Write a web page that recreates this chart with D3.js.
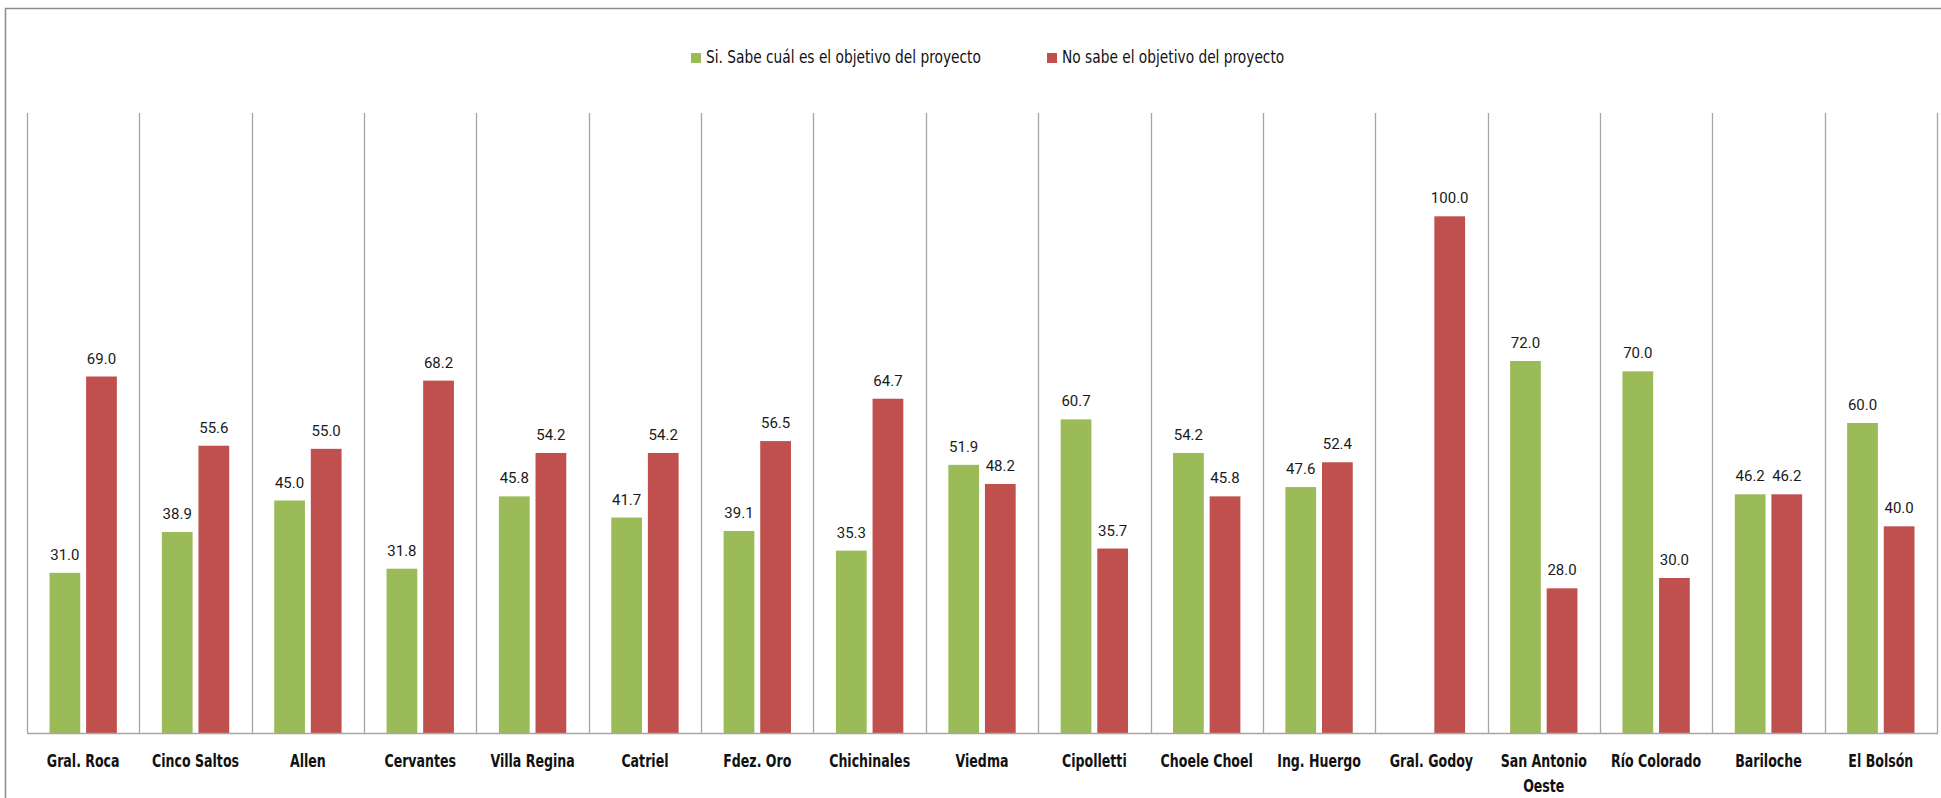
<!DOCTYPE html>
<html>
<head>
<meta charset="utf-8">
<script src="https://cdn.jsdelivr.net/npm/d3@7"></script>
<style>
  html, body { margin: 0; padding: 0; background: #fff; }
  svg { display: block; }
</style>
</head>
<body>
<div id="chart"></div>
<script>
// Datos del gráfico
const categories = ["Gral. Roca", "Cinco Saltos", "Allen", "Cervantes", "Villa Regina", "Catriel",
  "Fdez. Oro", "Chichinales", "Viedma", "Cipolletti", "Choele Choel", "Ing. Huergo",
  "Gral. Godoy", "San Antonio Oeste", "Río Colorado", "Bariloche", "El Bolsón"];
const seriesNames = ["Si. Sabe cuál es el objetivo del proyecto", "No sabe el objetivo del proyecto"];
const siSabe = [31.0, 38.9, 45.0, 31.8, 45.8, 41.7, 39.1, 35.3, 51.9, 60.7, 54.2, 47.6, null, 72.0, 70.0, 46.2, 60.0];
const noSabe = [69.0, 55.6, 55.0, 68.2, 54.2, 54.2, 56.5, 64.7, 48.2, 35.7, 45.8, 52.4, 100.0, 28.0, 30.0, 46.2, 40.0];
const colors = ["#9BBB59", "#C0504D"];

const width = 1941, height = 798;
const plot = { left: 27, right: 1937, top: 113, bottom: 733 };
const narrowFont = "'DejaVu Sans Condensed', 'Liberation Sans Narrow', sans-serif";

const data = categories.map((c, i) => ({
  cat: c,
  values: [
    { key: seriesNames[0], v: siSabe[i] },
    { key: seriesNames[1], v: noSabe[i] }
  ]
}));

const svg = d3.select("#chart").append("svg")
  .attr("width", width)
  .attr("height", height);

// Borde exterior
svg.append("rect")
  .attr("x", 5.5).attr("y", 8.5)
  .attr("width", width + 10).attr("height", height + 10)
  .attr("fill", "none")
  .attr("stroke", "#8c8c8c")
  .attr("stroke-width", 1.5);

// Escalas
const x = d3.scaleBand()
  .domain(categories)
  .range([plot.left, plot.right])
  .paddingInner(0)
  .paddingOuter(0);

const xSub = d3.scaleBand()
  .domain(seriesNames)
  .range([22.5, x.bandwidth() - 22.5])
  .paddingInner(0.16);

const y = d3.scaleLinear()
  .domain([0, 120])
  .range([plot.bottom, plot.top]);

const color = d3.scaleOrdinal().domain(seriesNames).range(colors);

// Líneas divisorias verticales
const bounds = categories.map(c => x(c)).concat([plot.right]);
svg.append("g")
  .selectAll("line")
  .data(bounds)
  .enter()
  .append("line")
  .attr("x1", d => Math.round(d) + 0.5)
  .attr("x2", d => Math.round(d) + 0.5)
  .attr("y1", plot.top)
  .attr("y2", plot.bottom)
  .attr("stroke", "#a6a6a6")
  .attr("stroke-width", 1.3);

// Barras
const groups = svg.selectAll(".grupo")
  .data(data)
  .enter()
  .append("g")
  .attr("class", "grupo")
  .attr("transform", d => `translate(${x(d.cat)},0)`);

groups.selectAll("rect")
  .data(d => d.values.filter(v => v.v != null))
  .enter()
  .append("rect")
  .attr("x", d => xSub(d.key))
  .attr("y", d => y(d.v))
  .attr("width", xSub.bandwidth())
  .attr("height", d => y(0) - y(d.v))
  .attr("fill", d => color(d.key));

// Etiquetas de valores
groups.selectAll("text")
  .data(d => d.values.filter(v => v.v != null))
  .enter()
  .append("text")
  .attr("x", d => xSub(d.key) + xSub.bandwidth() / 2)
  .attr("y", d => y(d.v) - 13)
  .attr("text-anchor", "middle")
  .style("font-family", "Roboto, 'Open Sans', sans-serif")
  .style("font-size", "15px")
  .attr("fill", "#1a1a1a")
  .text(d => d.v.toFixed(1));

// Eje X (línea base)
svg.append("line")
  .attr("x1", plot.left).attr("x2", plot.right + 1)
  .attr("y1", plot.bottom + 0.5).attr("y2", plot.bottom + 0.5)
  .attr("stroke", "#a6a6a6")
  .attr("stroke-width", 1.3);

// Etiquetas de categorías (texto estrecho, se parte en dos líneas si no cabe)
const xAxis = svg.append("g")
  .attr("transform", `translate(0,${plot.bottom})`)
  .call(d3.axisBottom(x).tickSize(0).tickPadding(0));
xAxis.select(".domain").remove();
const squeeze = 0.8;
xAxis.selectAll("text")
  .attr("y", 34)
  .attr("dy", 0)
  .attr("transform", `scale(${squeeze},1)`)
  .style("font-family", narrowFont)
  .style("font-weight", "bold")
  .style("font-size", "17.5px")
  .attr("fill", "#111")
  .each(function (d) {
    const t = d3.select(this);
    const words = d.split(" ");
    t.text(null);
    let line = [];
    let tspan = t.append("tspan").attr("x", 0).attr("dy", 0);
    words.forEach(w => {
      line.push(w);
      tspan.text(line.join(" "));
      if (tspan.node().getComputedTextLength() * squeeze > x.bandwidth() - 8 && line.length > 1) {
        line.pop();
        tspan.text(line.join(" "));
        line = [w];
        tspan = t.append("tspan").attr("x", 0).attr("dy", 25).text(w);
      }
    });
  });

// Leyenda
const legendPos = [691, 1047];
const legend = svg.append("g");
const items = legend.selectAll("g")
  .data(seriesNames)
  .enter()
  .append("g")
  .attr("transform", (d, i) => `translate(${legendPos[i]},53)`);
items.append("rect")
  .attr("width", 10)
  .attr("height", 10)
  .attr("fill", d => color(d));
items.append("text")
  .attr("transform", "translate(15,10) scale(0.9,1)")
  .style("font-family", narrowFont)
  .style("font-size", "17px")
  .attr("fill", "#111")
  .text(d => d);
</script>
</body>
</html>
